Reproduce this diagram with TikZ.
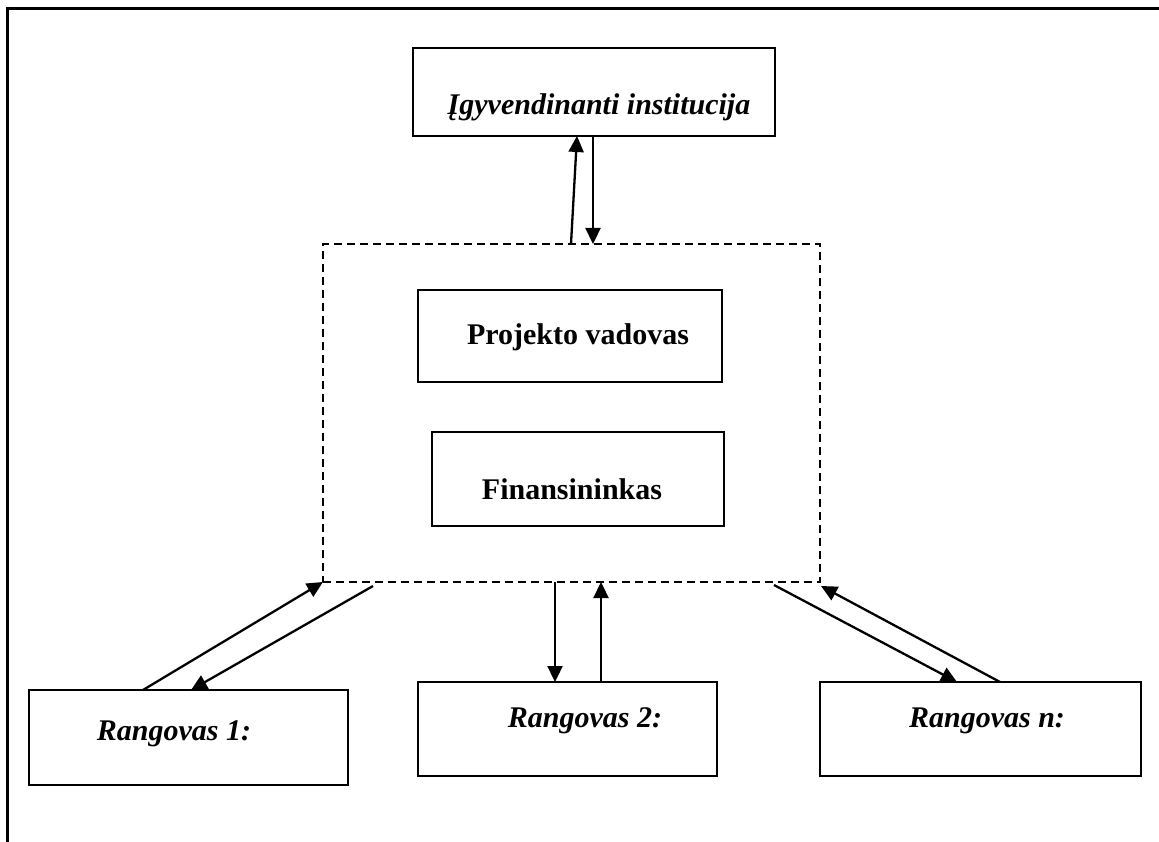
\documentclass[tikz,border=0pt]{standalone}
\usepackage{fontspec}
\setmainfont{Liberation Serif}
\usetikzlibrary{arrows.meta,calc}
\begin{document}
\begin{tikzpicture}[x=1pt,y=-1pt,
  box/.style={draw,line width=2.3pt,inner sep=0pt,outer sep=0pt},
  grp/.style={draw,dashed,dash pattern=on 8pt off 5pt,line width=2.2pt,inner sep=0pt,outer sep=0pt},
  lbl/.style={inner sep=0pt,anchor=base,font=\fontsize{30}{36}\selectfont\bfseries},
  ilbl/.style={lbl,font=\fontsize{30}{36}\selectfont\bfseries\itshape},
  arr/.style={line width=2.3pt,-{Triangle[length=16pt,width=15pt]}},
  frame/.style={line width=3pt}]
\useasboundingbox (0,0) rectangle (1159,842);
\draw[frame] (1159,9) -- (7,9) -- (7,842);
% boxes
\node[box,minimum width=362pt,minimum height=88pt] (ig) at (594,92) {};
\node[grp,minimum width=497pt,minimum height=338pt] (grp) at (571.5,413) {};
\node[box,minimum width=304pt,minimum height=92pt] (pv) at (570,336) {};
\node[box,minimum width=292pt,minimum height=94pt] (fin) at (578,479) {};
\node[box,minimum width=319pt,minimum height=95pt] (r1) at (188.5,737.5) {};
\node[box,minimum width=299pt,minimum height=94pt] (r2) at (567.5,729) {};
\node[box,minimum width=321pt,minimum height=94pt] (rn) at (980.5,729) {};
% labels
\node[ilbl] (tig) at (599,115) {Įgyvendinanti institucija};
\node[lbl] (tpv) at (578,344) {Projekto vadovas};
\node[lbl] (tfin) at (572,499) {Finansininkas};
\node[ilbl] (tr1) at (174,740) {Rangovas 1:};
\node[ilbl] (tr2) at (585,727) {Rangovas 2:};
\node[ilbl] (trn) at (987,727) {Rangovas n:};
% connectors top
\draw[arr] (grp.north west -| 571,0) -- (ig.south west -| 577,0);
\draw[arr] (ig.south west -| 593,0) -- (grp.north west -| 593,0);
% left
\draw[arr] (r1.north west -| 143,0) -- (grp.south west);
\draw[arr] ($(grp.south west)+(50,4)$) -- (r1.north west -| 191,0);
% middle
\draw[arr] (grp.south west -| 555,0) -- (r2.north west -| 555,0);
\draw[arr] (r2.north west -| 601,0) -- (grp.south west -| 601,0);
% right
\draw[arr] ($(grp.south east)+(-46,3)$) -- (rn.north west -| 957,0);
\draw[arr] (rn.north west -| 1000,0) -- ($(grp.south east)+(1,4)$);
\end{tikzpicture}
\end{document}
